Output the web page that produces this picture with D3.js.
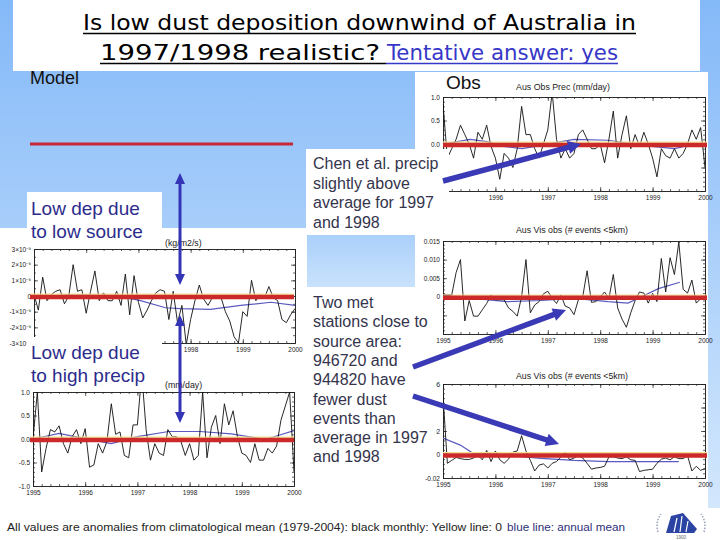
<!DOCTYPE html>
<html>
<head>
<meta charset="utf-8">
<script src="https://cdn.jsdelivr.net/npm/d3@7"></script>
<style>
  body { margin: 0; background: #fff; }
  svg { display: block; font-family: 'Liberation Sans', Arial, sans-serif; }
</style>
</head>
<body>
<div id="slide"></div>
<script>
//** DATA
//** monthly anomalies Jan 1995 .. Jan 2000, annual means as [year, value]
const yearTicks = [1995, 1996, 1997, 1998, 1999, 2000];

//** model dust deposition, units of 1e-9 kg/m2/s
const modelDep = [0.1, -0.9, 1.2, -0.3, 0.1, 0.3, 0.4, -0.5, 0.0, 2.0, 0.3, 0.4, -1.1, 0.3, 1.6, -0.3,
  0.2, -0.3, -0.3, 0.3, -0.6, 1.4, -1.2, 1.3, -0.4, -1.4, -0.9, -0.3, 0.2, 0.4, 0.3, -1.5, 0.3, -1.7,
  -0.6, -3.1, -1.5, -0.3, 0.7, -0.2, -0.6, -0.1, -0.1, -0.1, -1.0, -1.6, -2.6, -3.0, -1.0, -1.3, 1.0,
  -0.3, 0.1, -0.1, 0.6, -0.1, -0.3, -1.5, -1.7, -1.2, -0.8];
const modelDepAnnual = [[1995.5, 0.05], [1996.0, 0.05], [1996.6, 0.0], [1997.04, -0.3], [1997.52, -0.75],
  [1997.8, -0.8], [1998.38, -0.85], [1998.96, -0.6], [1999.54, -0.4], [2000.0, -0.6]];
const depTicks = [-3, -2, -1, 0, 1, 2, 3];

//** model precipitation, mm/day
const modelPrec = [0.0, 1.0, -0.7, -0.2, 0.2, 0.15, 0.28, -0.1, -0.3, 0.05, 0.2, -0.1, 0.22, -0.6, -0.55,
  -0.1, -0.3, -0.05, 0.75, 0.1, 0.15, -0.35, -0.4, 0.3, 0.3, 1.4, 0.2, -0.45, -0.1, -0.3, -0.35, 0.2,
  0.05, 0.05, -0.05, -0.35, -0.1, -0.45, -0.35, 1.0, -0.4, 0.25, 0.5, -0.1, 0.75, 0.3, 0.6, 0.05, -0.3,
  -0.35, -0.5, -0.1, -0.45, -0.45, -0.2, -0.3, -0.15, 0.4, 0.7, 1.0, -0.7];
const modelPrecAnnual = [[1995.0, 0.0], [1995.5, 0.12], [1995.94, 0.02], [1996.5, -0.1], [1997.0, 0.05],
  [1997.6, 0.16], [1998.2, 0.16], [1998.8, 0.11], [1999.45, -0.01], [2000.0, 0.18]];
const precTicks = [-1, -0.5, 0, 0.5, 1];

//** observed precipitation (Chen et al.), mm/day
const obsPrec = [0.85, -0.3, -0.1, 0.1, 0.4, 0.2, 0.0, -0.3, 0.25, 0.1, 0.4, -0.05, -0.3, -0.75, -0.2,
  -0.3, -0.5, -0.1, 0.8, 0.2, 0.2, -0.1, -0.3, 0.0, 0.3, 1.1, 0.1, -0.3, -0.1, -0.3, -0.2, 0.2, 0.3,
  0.1, -0.1, -0.1, 0.0, -0.4, 0.1, 0.7, -0.3, 0.2, 0.6, -0.1, 0.2, -0.05, 0.25, 0.0, -0.3, -0.7, -0.1,
  -0.25, -0.3, -0.1, -0.3, -0.2, 0.0, 0.3, 0.1, 0.35, -0.5];
const obsPrecAnnual = [[1995.0, 0.0], [1995.52, 0.1], [1995.84, 0.05], [1996.16, -0.05], [1996.51, -0.1],
  [1996.87, -0.03], [1997.5, 0.1], [1998.15, 0.08], [1998.79, -0.03], [1999.42, -0.1], [1999.81, 0.0]];

//** visibility obs station 1, units of 0.001 events
const visObsA = [0.5, 0.5, 0.5, 6.5, 10, -6.5, -1.0, -5.2, -5.2, -3.5, -1.8, 0.4, -0.8, -0.8, -0.8, -3.0,
  -3.9, -5.2, 0.0, 10.0, -4.3, -2.2, -1.3, 0.8, 1.5, -0.4, -1.8, 0.4, -2.5, -3.0, -4.8, -0.8, 0.0, 7.0,
  -1.5, -1.3, 0.0, 1.3, -0.4, 6.0, -3.0, -6.0, -8.2, -4.3, -1.0, 1.3, 1.0, -1.7, 0.9, -1.3, 10.3, 1.3,
  10.5, 6.0, 14.7, 2.0, 1.0, 4.5, -1.7, -0.5, -0.5];
const visObsAAnnual = [[1995.0, 0.4], [1995.58, -0.4], [1996.22, -1.3], [1996.87, -1.0], [1997.51, -0.4],
  [1998.15, -1.3], [1998.53, -1.7], [1998.79, 0.0], [1999.11, 2.2], [1999.52, 3.9]];
const visATicks = [-10, -5, 0, 5, 10, 15];

//** visibility obs station 2, units of 0.001 events
const visObsB = [50, -7.5, -5, -2.5, -3.5, -4.2, -4.2, -3, -0.6, -4.5, 3.5, -6, 3, -4.5, -7.5, -4, 2, 3,
  16, 3, -5, -14, -9, -8, -11.5, -7.5, -6, -2, 2.2, -4.5, -3, -1, -3, -7.5, -12.5, -11.5, -11, -10, -2,
  -2, -3, -3.5, -2, -4.5, -5, -14.5, -13.5, -13, -12.5, -7.5, -4, -3, -4.5, -2, -3.5, -3.5, -1, -14,
  -10, -13.5, -12];
const visObsBAnnual = [[1995.0, 14], [1995.33, 8], [1995.58, 0.8], [1996.22, -0.6], [1996.87, -3.3],
  [1997.5, -5], [1998.15, -6], [1998.8, -6], [1999.5, -6]];
const visBTicks = [-20, 0, 20, 40, 60];

//** SETUP
const W = 720, H = 540;
const svg = d3.select('#slide').append('svg').attr('width', W).attr('height', H);
const defs = svg.append('defs');

const bg = defs.append('linearGradient').attr('id', 'bg')
  .attr('x1', 0).attr('y1', 0).attr('x2', 0).attr('y2', 1);
bg.append('stop').attr('offset', '0%').attr('stop-color', '#84b9f8');
bg.append('stop').attr('offset', '100%').attr('stop-color', '#d8eafd');

const pale = defs.append('linearGradient').attr('id', 'pale')
  .attr('x1', 0).attr('y1', 0).attr('x2', 0).attr('y2', 1);
pale.append('stop').attr('offset', '0%').attr('stop-color', '#aad0fb');
pale.append('stop').attr('offset', '100%').attr('stop-color', '#c9e2fc');

svg.append('rect').attr('width', W).attr('height', H).attr('fill', 'url(#bg)');

function box(x, y, w, h, fill) {
  return svg.append('rect').attr('x', x).attr('y', y).attr('width', w).attr('height', h)
    .attr('fill', fill || '#fff');
}

//** white areas behind charts
box(13, 0, 687, 71);
box(415, 72, 293, 436);
box(0, 228, 708, 280);
box(307, 235, 108, 52, 'url(#pale)');
box(0, 508, 720, 32);

//** TITLE
const title = svg.append('g').attr('font-family', "'DejaVu Sans', sans-serif").attr('font-size', 21);
title.append('text').attr('x', 83).attr('y', 30).attr('fill', '#000')
  .attr('textLength', 553).attr('lengthAdjust', 'spacingAndGlyphs')
  .text('Is low dust deposition downwind of Australia in');
title.append('text').attr('x', 100).attr('y', 60).attr('fill', '#000')
  .attr('textLength', 280).attr('lengthAdjust', 'spacingAndGlyphs')
  .text('1997/1998 realistic?');
title.append('text').attr('x', 387).attr('y', 60).attr('fill', '#3737c8')
  .attr('textLength', 231).attr('lengthAdjust', 'spacingAndGlyphs')
  .text('Tentative answer: yes');
title.append('line').attr('x1', 83).attr('x2', 636).attr('y1', 33.5).attr('y2', 33.5)
  .attr('stroke', '#000').attr('stroke-width', 1.5);
title.append('line').attr('x1', 100).attr('x2', 386).attr('y1', 63.5).attr('y2', 63.5)
  .attr('stroke', '#000').attr('stroke-width', 1.5);
title.append('line').attr('x1', 386).attr('x2', 618).attr('y1', 63.5).attr('y2', 63.5)
  .attr('stroke', '#3737c8').attr('stroke-width', 1.5);

svg.append('text').attr('x', 30).attr('y', 84).attr('font-size', 18).attr('fill', '#111').text('Model');
svg.append('text').attr('x', 446).attr('y', 89).attr('font-size', 19).attr('fill', '#111').text('Obs');

//** red marker line on the background
svg.append('line').attr('x1', 30).attr('x2', 293).attr('y1', 144).attr('y2', 144)
  .attr('stroke', '#c82838').attr('stroke-width', 3);

//** PANELS
function styleAxis(sel, keep) {
  sel.attr('font-size', 6.5).attr('font-family', "'Liberation Sans', Arial, sans-serif")
    .attr('color', '#222');
  sel.selectAll('.domain').attr('stroke-width', 0.8);
  sel.selectAll('.tick line').attr('stroke-width', 0.7);
  //** drop labels that sit under the overlaid boxes
  sel.selectAll('.tick text').filter(d => !keep || !keep.includes(d)).remove();
}

function drawPanel(p) {
  const x = d3.scaleLinear().domain([yearTicks[0], yearTicks[yearTicks.length - 1]]).range([p.x0, p.x1]);
  const y = d3.scaleLinear().domain(p.yDomain).range([p.y1, p.y0]);
  const g = svg.append('g').attr('class', 'panel-' + p.id);

  g.append('clipPath').attr('id', 'clip-' + p.id)
    .append('rect').attr('x', p.x0).attr('y', p.y0)
    .attr('width', p.x1 - p.x0).attr('height', p.y1 - p.y0);

  //** minor tick positions
  const xMinor = d3.range(0, 61, 2).map(i => 1995 + i / 12);
  const yMinor = d3.range(p.yDomain[0], p.yDomain[1] + 1e-9, p.yMinorStep);

  //** bottom + top
  g.append('g').attr('transform', 'translate(0,' + p.y1 + ')')
    .call(d3.axisBottom(x).tickValues(yearTicks).tickSize(-4).tickSizeOuter(0).tickPadding(4)
      .tickFormat(d3.format('d')))
    .call(styleAxis, p.xLabels);
  g.append('g').attr('transform', 'translate(0,' + p.y1 + ')')
    .call(d3.axisBottom(x).tickValues(xMinor).tickSize(-2).tickSizeOuter(0))
    .call(styleAxis, null);
  g.append('g').attr('transform', 'translate(0,' + p.y0 + ')')
    .call(d3.axisTop(x).tickValues(yearTicks).tickSize(-4).tickSizeOuter(0))
    .call(styleAxis, null);
  g.append('g').attr('transform', 'translate(0,' + p.y0 + ')')
    .call(d3.axisTop(x).tickValues(xMinor).tickSize(-2).tickSizeOuter(0))
    .call(styleAxis, null);

  //** left + right
  g.append('g').attr('transform', 'translate(' + p.x0 + ',0)')
    .call(d3.axisLeft(y).tickValues(p.yTicks).tickSize(-4).tickSizeOuter(0).tickPadding(3)
      .tickFormat(p.yFormat))
    .call(styleAxis, p.yLabels);
  g.append('g').attr('transform', 'translate(' + p.x0 + ',0)')
    .call(d3.axisLeft(y).tickValues(yMinor).tickSize(-2).tickSizeOuter(0))
    .call(styleAxis, null);
  g.append('g').attr('transform', 'translate(' + p.x1 + ',0)')
    .call(d3.axisRight(y).tickValues(p.yTicks).tickSize(-4).tickSizeOuter(0))
    .call(styleAxis, null);
  g.append('g').attr('transform', 'translate(' + p.x1 + ',0)')
    .call(d3.axisRight(y).tickValues(yMinor).tickSize(-2).tickSizeOuter(0))
    .call(styleAxis, null);

  //** title
  g.append('text').attr('x', p.titleX).attr('y', p.titleY)
    .attr('text-anchor', p.titleAnchor).attr('font-size', 8.8).attr('fill', '#222')
    .text(p.title);

  //** series
  const line = d3.line().x(d => x(d[0])).y(d => y(d[1]));
  const monthly = p.monthly.map((v, i) => [1995 + i / 12, v]);
  const plot = g.append('g').attr('clip-path', 'url(#clip-' + p.id + ')');
  plot.append('path').datum(p.annual).attr('d', line)
    .attr('fill', 'none').attr('stroke', '#5a5ac0').attr('stroke-width', 1.2);
  plot.append('path').datum(monthly).attr('d', line)
    .attr('fill', 'none').attr('stroke', '#111').attr('stroke-width', 0.9);

  //** zero: yellow reference line and red overlay
  const y0 = y(0);
  g.append('line').attr('x1', p.redX[0]).attr('x2', p.redX[1]).attr('y1', y0 - 1.8).attr('y2', y0 - 1.8)
    .attr('stroke', '#f2df8a').attr('stroke-width', 1.2);
  g.append('line').attr('x1', p.redX[0]).attr('x2', p.redX[1]).attr('y1', y0 + 1).attr('y2', y0 + 1)
    .attr('stroke', '#cc2a2a').attr('stroke-width', 4.6);
}

const fmtSci = v => v === 0 ? '0' : (v < 0 ? '-' : '') + Math.abs(v) + '×10⁻⁹';
const fmt1 = v => d3.format('.1f')(v).replace('−', '-');
const fmtA = v => v === 0 ? '0' : d3.format('.3f')(v / 1000).replace('−', '-');
const fmtB = v => v === 0 ? '0' : d3.format('.2f')(v / 1000).replace('−', '-');

drawPanel({ id: 'dep', x0: 34, x1: 295, y0: 249, y1: 343, yDomain: [-3, 3], yTicks: depTicks,
  yLabels: depTicks, xLabels: [1998, 1999, 2000],
  yMinorStep: 0.5, yFormat: fmtSci, monthly: modelDep, annual: modelDepAnnual, redX: [30, 294],
  title: '(kg/m2/s)', titleX: 165, titleY: 246, titleAnchor: 'start' });
drawPanel({ id: 'prec', x0: 33, x1: 294, y0: 392, y1: 486, yDomain: [-1, 1], yTicks: precTicks,
  yLabels: precTicks, xLabels: yearTicks,
  yMinorStep: 0.1, yFormat: fmt1, monthly: modelPrec, annual: modelPrecAnnual, redX: [30, 294],
  title: '(mm/day)', titleX: 165, titleY: 388, titleAnchor: 'start' });
drawPanel({ id: 'obsprec', x0: 443, x1: 705, y0: 97, y1: 191, yDomain: [-1, 1], yTicks: precTicks,
  yLabels: [0, 0.5, 1], xLabels: [1996, 1997, 1998, 1999, 2000],
  yMinorStep: 0.1, yFormat: fmt1, monthly: obsPrec, annual: obsPrecAnnual, redX: [443, 707],
  title: 'Aus Obs Prec (mm/day)', titleX: 563, titleY: 90, titleAnchor: 'middle' });
drawPanel({ id: 'visA', x0: 443, x1: 705, y0: 241, y1: 334, yDomain: [-10, 15], yTicks: visATicks,
  yLabels: [0, 5, 10, 15], xLabels: yearTicks,
  yMinorStep: 1, yFormat: fmtA, monthly: visObsA, annual: visObsAAnnual, redX: [443, 707],
  title: 'Aus Vis obs (# events <5km)', titleX: 572, titleY: 233, titleAnchor: 'middle' });
drawPanel({ id: 'visB', x0: 443, x1: 705, y0: 384, y1: 478, yDomain: [-20, 60], yTicks: visBTicks,
  yLabels: [-20, 0, 20, 60], xLabels: yearTicks,
  yMinorStep: 4, yFormat: fmtB, monthly: visObsB, annual: visObsBAnnual, redX: [443, 707],
  title: 'Aus Vis obs (# events <5km)', titleX: 572, titleY: 379, titleAnchor: 'middle' });

//** TEXT BOXES (drawn over the charts)
function textBox(x, y, w, h, tx, ty, lines, size, step, color) {
  box(x, y, w, h);
  const t = svg.append('text').attr('x', tx).attr('y', ty).attr('font-size', size).attr('fill', color);
  lines.forEach((l, i) => {
    t.append('tspan').attr('x', tx).attr('y', ty + i * step).text(l);
  });
}

textBox(27, 192, 135, 53, 31, 215, ['Low dep due', 'to low source'], 19, 23, '#2c2c8c');
textBox(27, 337, 135, 52, 31, 359, ['Low dep due', 'to high precip'], 19, 23, '#2c2c8c');
textBox(306, 149, 143, 82, 313, 169, ['Chen et al. precip', 'slightly above', 'average for 1997', 'and 1998'],
  16, 19.5, '#34344c');
textBox(306, 290, 130, 180, 313, 308, ['Two met', 'stations close to', 'source area:', '946720 and',
  '944820 have', 'fewer dust', 'events than', 'average in 1997', 'and 1998'], 16, 19.3, '#34344c');

//** ARROWS
function arrow(x1, y1, x2, y2, width, headLen, headW, both, color) {
  const dx = x2 - x1, dy = y2 - y1, len = Math.hypot(dx, dy);
  const ux = dx / len, uy = dy / len, px = -uy, py = ux;
  const a = svg.append('g').attr('fill', color).attr('stroke', color);
  const sx = both ? x1 + ux * headLen * 0.8 : x1, sy = both ? y1 + uy * headLen * 0.8 : y1;
  a.append('line').attr('x1', sx).attr('y1', sy)
    .attr('x2', x2 - ux * headLen * 0.8).attr('y2', y2 - uy * headLen * 0.8)
    .attr('stroke-width', width);
  const head = (tx, ty, dirx, diry) => {
    const bx = tx - dirx * headLen, by = ty - diry * headLen;
    a.append('path').attr('stroke', 'none')
      .attr('d', 'M' + tx + ',' + ty + 'L' + (bx + px * headW / 2) + ',' + (by + py * headW / 2) +
        'L' + (bx - px * headW / 2) + ',' + (by - py * headW / 2) + 'Z');
  };
  head(x2, y2, ux, uy);
  if (both) head(x1, y1, -ux, -uy);
}

arrow(180, 173, 180, 285, 3, 11, 10, true, '#3434b6');
arrow(180, 315, 180, 423, 3, 11, 10, true, '#3434b6');
arrow(443, 181, 581, 144, 5.5, 13, 13, false, '#3a3ab6');
arrow(413, 367, 566, 310, 5.5, 13, 13, false, '#3a3ab6');
arrow(413, 396, 559, 444, 5.5, 13, 13, false, '#3a3ab6');

//** FOOTER
svg.append('text').attr('x', 7).attr('y', 531).attr('font-size', 11.5).attr('fill', '#222')
  .attr('textLength', 495).attr('lengthAdjust', 'spacingAndGlyphs')
  .text('All values are anomalies from climatological mean (1979-2004): black monthly: Yellow line: 0');
svg.append('text').attr('x', 507).attr('y', 531).attr('font-size', 11.5).attr('fill', '#30307a')
  .attr('textLength', 118).attr('lengthAdjust', 'spacingAndGlyphs')
  .text('blue line: annual mean');

//** small logo
const logo = svg.append('g').attr('transform', 'translate(652,512)');
logo.append('path').attr('d', 'M14,21 L19,4 L31,1 L45,17 L42,21 Z').attr('fill', '#2b44a4');
logo.append('path').attr('d', 'M22,20 L25,6 M28,20 L30,4 M34,20 L36,9').attr('stroke', '#fff')
  .attr('stroke-width', 1.2);
logo.append('path').attr('d', 'M6,20 Q3,10 9,2 M52,20 Q55,10 49,2').attr('stroke', '#9aa3b8')
  .attr('stroke-width', 1.5).attr('stroke-dasharray', '1.5,1.5').attr('fill', 'none');
logo.append('text').attr('x', 29).attr('y', 27).attr('text-anchor', 'middle').attr('font-size', 4.5)
  .attr('fill', '#666').text('1900');
</script>
</body>
</html>
